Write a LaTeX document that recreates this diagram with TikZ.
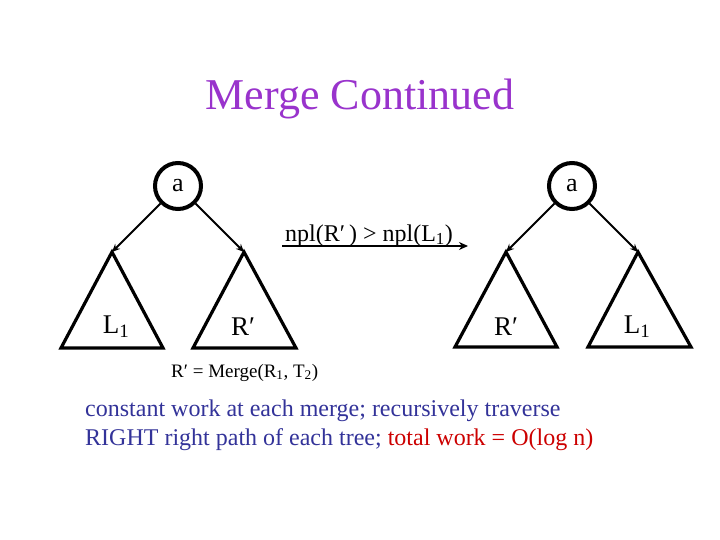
\documentclass[tikz,border=0pt]{standalone}
\usepackage{fontspec}
\setmainfont{Liberation Serif}
\usetikzlibrary{arrows.meta}
\definecolor{titlec}{RGB}{153,51,204}
\definecolor{bluec}{RGB}{51,51,153}
\definecolor{redc}{RGB}{204,0,0}
\begin{document}
\begin{tikzpicture}[x=1pt,y=-1pt,
  rootnode/.style={circle,draw,line width=4pt,minimum size=46pt,inner sep=0pt,font=\fontsize{26}{28}\selectfont},
  edge/.style={line width=1.8pt,-{Stealth[length=8pt,width=7pt]}},
  tri/.style={line width=3.2pt,line join=miter},
  trilabel/.style={font=\fontsize{27}{29}\selectfont,inner sep=0pt}]
\useasboundingbox (0,0) rectangle (720,540);
\node[font=\fontsize{44}{48}\selectfont,text=titlec] (title) at (360,99) {Merge Continued};
% left tree
\node[rootnode] (a1) at (178,186) {a};
\coordinate (t1) at (112,252);
\coordinate (t2) at (244,252);
\draw[tri] (t1) -- (61,348) -- (163,348) -- cycle;
\draw[tri] (t2) -- (193,348) -- (296,348) -- cycle;
\draw[edge] (a1) -- (t1);
\draw[edge] (a1) -- (t2);
\node[trilabel] (l1a) at (116,327) {L\textsubscript{1}};
\node[trilabel] (r1a) at (243,327) {R′};
% right tree
\node[rootnode] (a2) at (572,186) {a};
\coordinate (t3) at (506,252);
\coordinate (t4) at (638,252);
\draw[tri] (t3) -- (455,347) -- (557,347) -- cycle;
\draw[tri] (t4) -- (588,347) -- (691,347) -- cycle;
\draw[edge] (a2) -- (t3);
\draw[edge] (a2) -- (t4);
\node[trilabel] (r1b) at (506,327) {R′};
\node[trilabel] (l1b) at (637,327) {L\textsubscript{1}};
% transform arrow
\coordinate (s) at (282,246);
\coordinate (e) at (468,246);
\draw[line width=1.8pt,-{Stealth[length=9pt,width=8pt]}] (s) -- (e);
\node[font=\fontsize{24}{26}\selectfont,anchor=base,inner sep=0pt] (npl) at (369,241) {npl(R′\,) > npl(L\textsubscript{1})};
\node[font=\fontsize{19}{21}\selectfont,anchor=base west,inner sep=0pt] (merge) at (171,377) {R′ = Merge(R\textsubscript{1}, T\textsubscript{2})};
\node[font=\fontsize{24}{29}\selectfont,anchor=north west,inner sep=0pt,align=left,text=bluec] (desc) at (85,400)
  {constant work at each merge; recursively traverse\\RIGHT right path of each tree; \textcolor{redc}{total work = O(log n)}};
\end{tikzpicture}
\end{document}
